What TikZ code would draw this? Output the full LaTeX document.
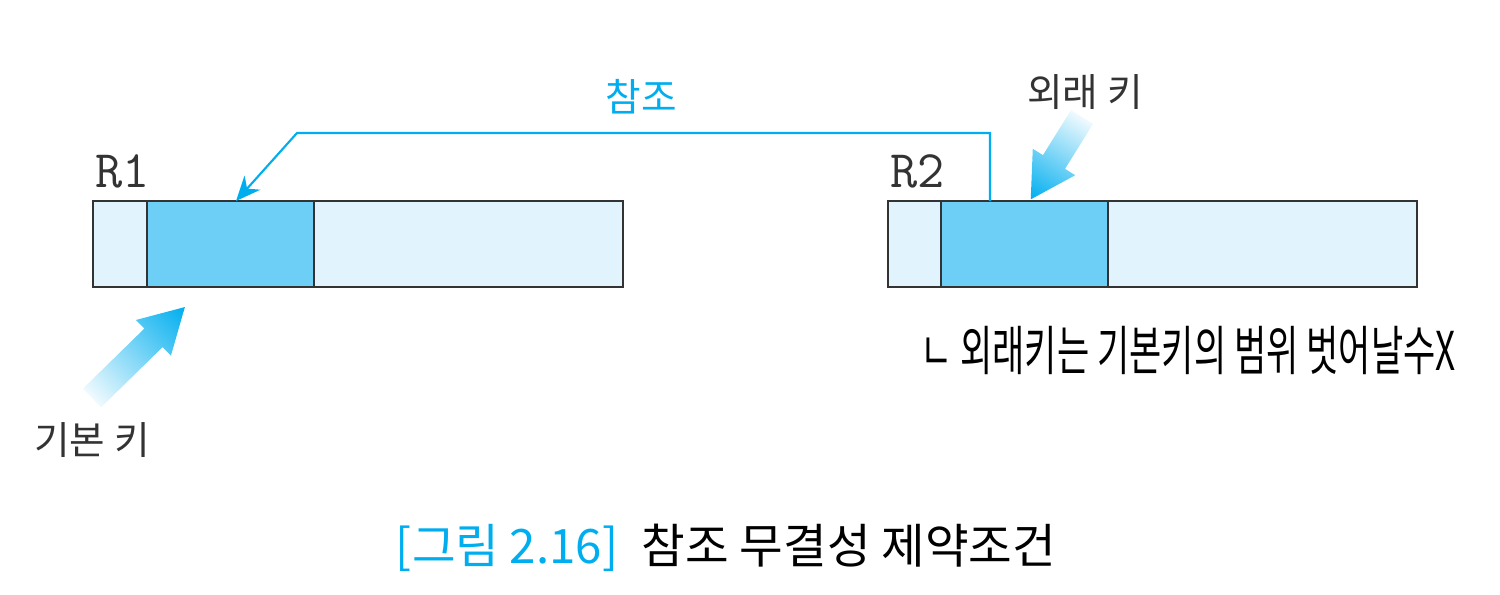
\documentclass[tikz,border=0pt]{standalone}
\usepackage{fontspec}
\newfontfamily\kr{Noto Sans CJK KR}
\usetikzlibrary{positioning,calc,arrows.meta}
\definecolor{refcyan}{RGB}{0,174,239}
\definecolor{keyblue}{RGB}{109,207,246}
\definecolor{paleblue}{RGB}{225,243,252}
\definecolor{darkline}{RGB}{51,51,51}

% gradient arrow: tail, angle, length
\newcommand{\keyarrow}[3]{%
  \shade[left color=refcyan!6, right color=refcyan,
    transform canvas={shift={(#1)}, rotate=#2}]
    (0,-13) -- (#3-44,-13) -- (#3-44,-25) -- (#3,0) -- (#3-44,25) -- (#3-44,13) -- (0,13) -- cycle;}

\tikzset{
  cell/.style={draw=darkline, line width=0.8pt, minimum height=0.86cm,
    inner sep=0pt, outer sep=0pt, anchor=west},
  pale/.style={cell, fill=paleblue},
  keycell/.style={cell, fill=keyblue},
  relname/.style={font=\fontsize{15}{15}\selectfont\ttfamily, text=darkline,
    inner sep=0pt, anchor=base west},
  keylbl/.style={font=\kr\fontsize{11}{13}\selectfont, text=darkline, inner sep=0pt},
  refline/.style={draw=refcyan, line width=0.6pt}
}

\begin{document}
\begin{tikzpicture}[x=0.1mm, y=-0.1mm]
	\useasboundingbox (0,0) rectangle (1500,594);
	% R1
	\node[pale, minimum width=0.54cm] (r1a) at (93,244) {};
	\node[keycell, minimum width=1.67cm, right=0pt of r1a] (r1pk) {};
	\node[pale, minimum width=3.09cm, right=0pt of r1pk] (r1rest) {};
	\node[relname] (r1) at (95,187) {R1};
	% R2
	\node[pale, minimum width=0.53cm] (r2a) at (888,244) {};
	\node[keycell, minimum width=1.67cm, right=0pt of r2a] (r2fk) {};
	\node[pale, minimum width=3.09cm, right=0pt of r2fk] (r2rest) {};
	\node[relname] (r2) at (890,187) {R2};
	% 참조
	\coordinate (bend) at (297,133);
	\draw[refline, -{Stealth[length=7pt, width=6pt]}]
		($(r2fk.north west)+(49,0)$) |- (bend) -- ($(r1pk.north west)+(89,0)$);
	\node[keylbl, text=refcyan] (reftxt) at (641,97) {참조};
	% 키 표시
	\node[keylbl] (fklbl) at (1085,92) {외래 키};
	\node[keylbl] (pklbl) at (92,440) {기본 키};
	\keyarrow{92,398}{44.4}{130}
	\keyarrow{1082,117}{238.1}{97}
	% 메모
	\node[font=\kr\fontsize{10.5}{12}\selectfont, inner sep=0pt] (memo) at (1188,350)
		{\scalebox{0.95}[1.45]{ㄴ 외래키는 기본키의 범위 벗어날수X}};
	% 캡션
	\node[font=\kr\fontsize{13.5}{15}\selectfont, inner sep=0pt] (cap) at (726,548)
		{\textcolor{refcyan}{[그림 2.16]}\hspace{0.5em}참조 무결성 제약조건};
\end{tikzpicture}
\end{document}
